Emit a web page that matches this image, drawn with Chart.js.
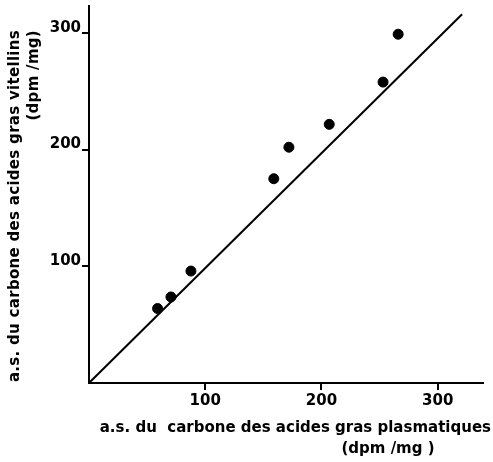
<!DOCTYPE html>
<html>
<head>
<meta charset="utf-8">
<script src="https://cdn.jsdelivr.net/npm/chart.js@4/dist/chart.umd.min.js"></script>
<style>
  html, body { margin: 0; padding: 0; background: #fff; }
  #c { display: block; }
</style>
</head>
<body>
<canvas id="c" width="493" height="462"></canvas>
<script>
// a.s. plasmatique (x) vs a.s. vitellin (y), dpm/mg
const plasmaX = [59, 70.5, 87.7, 159, 172, 206.7, 253, 266];
const vitellusY = [63.8, 73.7, 95.9, 175, 202, 221.6, 257.8, 298.8];
// droite tracée
const fitX = [0, 321];
const fitY = [0, 316];
const xTicks = [100, 200, 300];
const yTicks = [100, 200, 300];

const FONT = "'DejaVu Sans', sans-serif";

const titles = {
  id: "axisTitles",
  afterDraw(chart) {
    const { ctx, chartArea } = chart;
    ctx.save();
    ctx.fillStyle = "#000";
    ctx.font = `bold 15px ${FONT}`;
    ctx.textBaseline = "middle";
    // x
    ctx.textAlign = "right";
    ctx.fillText("a.s. du  carbone des acides gras plasmatiques", chartArea.right + 8, chartArea.bottom + 45);
    ctx.textAlign = "center";
    ctx.fillText("(dpm /mg )", chartArea.left + 299, chartArea.bottom + 66);
    // y
    ctx.letterSpacing = "0.3px";
    ctx.translate(15, 30);
    ctx.rotate(-Math.PI / 2);
    ctx.textAlign = "right";
    ctx.fillText("a.s. du carbone des acides gras vitellins", 0, 0);
    ctx.fillText("(dpm /mg)", 0, 19);
    ctx.restore();
  },
};

const axisCommon = {
  type: "linear",
  min: 0,
  grid: { drawOnChartArea: false, drawTicks: true, tickLength: 7, color: "#000", lineWidth: 2 },
  border: { display: true, color: "#000", width: 2 },
};

new Chart(document.getElementById("c"), {
  type: "scatter",
  data: {
    datasets: [
      {
        data: plasmaX.map((x, i) => ({ x, y: vitellusY[i] })),
        backgroundColor: "#000",
        borderColor: "#000",
        pointRadius: 5,
      },
      {
        type: "line",
        data: fitX.map((x, i) => ({ x, y: fitY[i] })),
        borderColor: "#000",
        borderWidth: 2,
        pointRadius: 0,
        fill: false,
      },
    ],
  },
  options: {
    responsive: false,
    animation: false,
    layout: { padding: { left: 0, right: 10, top: 5, bottom: 0 } },
    plugins: { legend: { display: false }, tooltip: { enabled: false } },
    scales: {
      x: {
        ...axisCommon,
        max: 339,
        afterBuildTicks(s) { s.ticks = xTicks.map((v) => ({ value: v })); },
        afterFit(s) { s.height = 79; s.paddingRight = 0; },
        ticks: { color: "#000", font: { family: FONT, size: 15, weight: "bold" }, padding: 2, maxRotation: 0 },
      },
      y: {
        ...axisCommon,
        max: 323,
        afterBuildTicks(s) { s.ticks = yTicks.map((v) => ({ value: v })); },
        afterFit(s) { s.width = 89; s.paddingTop = 0; s.paddingBottom = 0; },
        ticks: { color: "#000", font: { family: FONT, size: 15, weight: "bold" }, padding: 1, labelOffset: -5 },
      },
    },
  },
  plugins: [titles],
});
</script>
</body>
</html>
